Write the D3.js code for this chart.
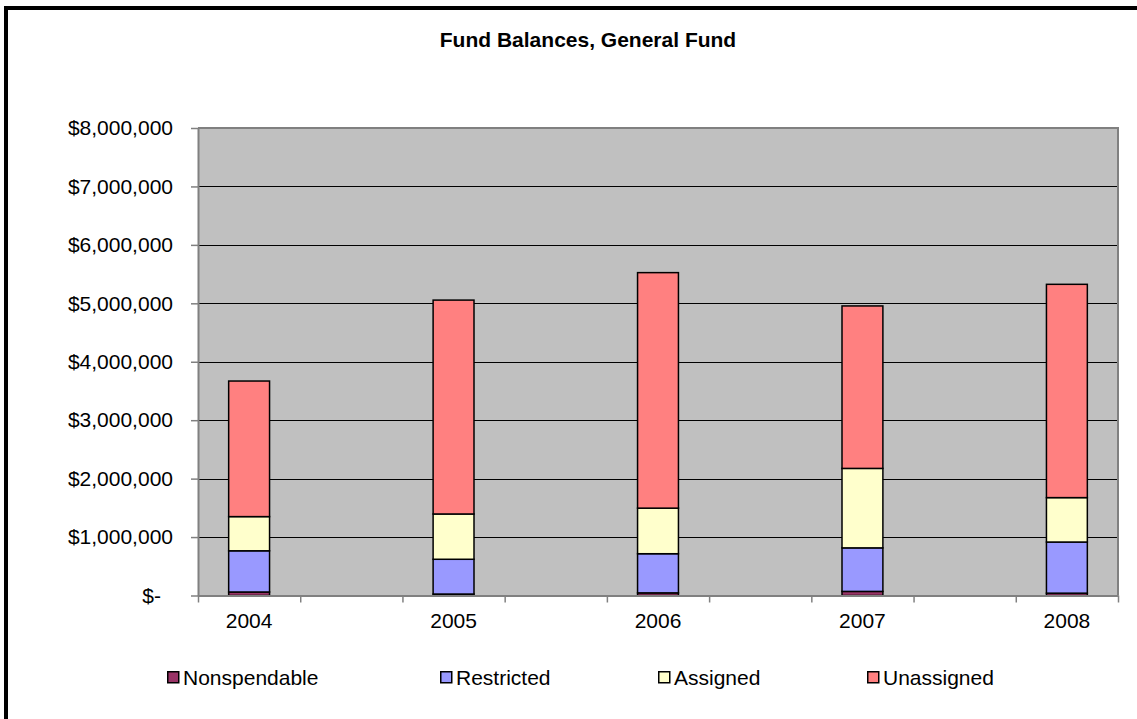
<!DOCTYPE html>
<html>
<head>
<meta charset="utf-8">
<script src="https://cdn.jsdelivr.net/npm/d3@7"></script>
<style>
  html, body { margin: 0; padding: 0; background: #fff; overflow: hidden; }
  svg { display: block; font-family: "Liberation Sans", Arial, sans-serif; }
</style>
</head>
<body>
<svg id="chart" width="1137" height="719"></svg>
<script>
// Fiscal years shown as bars
const years = ["2004", "2005", "2006", "2007", "2008"];
// Category slots along the x axis (empty slots leave a gap between years)
const slotLabels = ["2004", "", "2005", "", "2006", "", "2007", "", "2008"];
// Series values in dollars, one per year
const nonspendable = [60000, 25000, 45000, 70000, 40000];
const restricted   = [705000, 595000, 670000, 745000, 875000];
const assigned     = [585000, 775000, 780000, 1360000, 760000];
const unassigned   = [2320000, 3660000, 4030000, 2780000, 3650000];
// Series names and y-axis ticks
const seriesNames = ["Nonspendable", "Restricted", "Assigned", "Unassigned"];
const yTicks = [0, 1000000, 2000000, 3000000, 4000000, 5000000, 6000000, 7000000, 8000000];

const seriesColors = ["#993366", "#9999FF", "#FFFFCC", "#FF8080"];
const seriesValues = [nonspendable, restricted, assigned, unassigned];
const FONT_SIZE = 21;

const rows = years.map((y, i) => {
  const r = { year: y };
  seriesNames.forEach((s, k) => { r[s] = seriesValues[k][i]; });
  return r;
});

const svg = d3.select("#chart");

// Chart frame
svg.append("rect")
  .attr("x", 6).attr("y", 8)
  .attr("width", 1300).attr("height", 900)
  .attr("fill", "#fff").attr("stroke", "#000").attr("stroke-width", 4);

// Title
svg.append("text")
  .attr("x", 588).attr("y", 47)
  .attr("text-anchor", "middle")
  .attr("font-size", FONT_SIZE).attr("font-weight", "bold")
  .text("Fund Balances, General Fund");

const plot = { left: 198, right: 1118, top: 128, bottom: 595.5 };

const y = d3.scaleLinear().domain([0, 8000000]).range([plot.bottom, plot.top]);
const xBand = d3.scaleBand()
  .domain(d3.range(slotLabels.length))
  .range([plot.left, plot.right])
  .paddingInner(0.6).paddingOuter(0.3);
const xEdge = d3.scaleLinear().domain([0, slotLabels.length]).range([plot.left, plot.right]);

// Plot background
svg.append("rect")
  .attr("x", plot.left).attr("y", plot.top)
  .attr("width", plot.right - plot.left).attr("height", plot.bottom - plot.top)
  .attr("fill", "#C0C0C0");

// Horizontal gridlines
svg.append("g")
  .selectAll("line")
  .data(yTicks.filter(t => t > 0))
  .join("line")
  .attr("x1", plot.left).attr("x2", plot.right)
  .attr("y1", d => Math.round(y(d)) + 0.5).attr("y2", d => Math.round(y(d)) + 0.5)
  .attr("stroke", "#000").attr("stroke-width", 1);

// Plot border (top and right)
svg.append("path")
  .attr("d", `M${plot.left},${plot.top}H${plot.right}V${plot.bottom}`)
  .attr("fill", "none").attr("stroke", "#808080").attr("stroke-width", 2);

// Stacked bars
const stack = d3.stack().keys(seriesNames);
const layers = stack(rows);

svg.append("g")
  .selectAll("g")
  .data(layers)
  .join("g")
  .attr("fill", (d, i) => seriesColors[i])
  .selectAll("rect")
  .data(d => d)
  .join("rect")
  .attr("x", d => xBand(slotLabels.indexOf(d.data.year)))
  .attr("width", xBand.bandwidth())
  .attr("y", d => y(d[1]))
  .attr("height", d => y(d[0]) - y(d[1]))
  .attr("stroke", "#000").attr("stroke-width", 1.5);

// Y axis
const yAxis = svg.append("g")
  .attr("transform", `translate(${plot.left},0)`)
  .call(d3.axisLeft(y)
    .tickValues(yTicks)
    .tickSizeInner(7).tickSizeOuter(0)
    .tickPadding(18)
    .tickFormat(d => d === 0 ? "$-" : "$" + d3.format(",")(d)));
yAxis.select(".domain").attr("stroke", "#808080").attr("stroke-width", 2);
yAxis.selectAll(".tick line").attr("stroke", "#808080").attr("stroke-width", 1.5);
yAxis.selectAll(".tick text")
  .attr("font-size", FONT_SIZE).attr("font-family", "Liberation Sans, Arial, sans-serif")
  .attr("fill", "#000")
  .attr("dx", d => d === 0 ? -12 : 0);

// X axis: ticks at category boundaries
const xAxis = svg.append("g")
  .attr("transform", `translate(0,${plot.bottom})`)
  .call(d3.axisBottom(xEdge)
    .tickValues(d3.range(slotLabels.length + 1))
    .tickSizeInner(7).tickSizeOuter(0)
    .tickFormat(""));
xAxis.select(".domain").attr("stroke", "#808080").attr("stroke-width", 2);
xAxis.selectAll(".tick line").attr("stroke", "#808080").attr("stroke-width", 1.5);

// X axis labels centred on each slot
const xLabels = svg.append("g")
  .attr("transform", `translate(0,${plot.bottom})`)
  .call(d3.axisBottom(xBand)
    .tickSize(0).tickPadding(18)
    .tickFormat(i => slotLabels[i]));
xLabels.select(".domain").remove();
xLabels.selectAll(".tick text")
  .attr("font-size", FONT_SIZE).attr("font-family", "Liberation Sans, Arial, sans-serif")
  .attr("fill", "#000");

// Legend
const legendX = [167, 440, 658, 867];
const legend = svg.append("g").attr("transform", "translate(0,671)");
const items = legend.selectAll("g")
  .data(seriesNames)
  .join("g")
  .attr("transform", (d, i) => `translate(${legendX[i]},0)`);
items.append("rect")
  .attr("x", 0.75).attr("y", 0.75)
  .attr("width", 11).attr("height", 11)
  .attr("fill", (d, i) => seriesColors[i])
  .attr("stroke", "#000").attr("stroke-width", 1.5);
items.append("text")
  .attr("x", 16).attr("y", 13.5)
  .attr("font-size", FONT_SIZE)
  .text(d => d);
</script>
</body>
</html>
